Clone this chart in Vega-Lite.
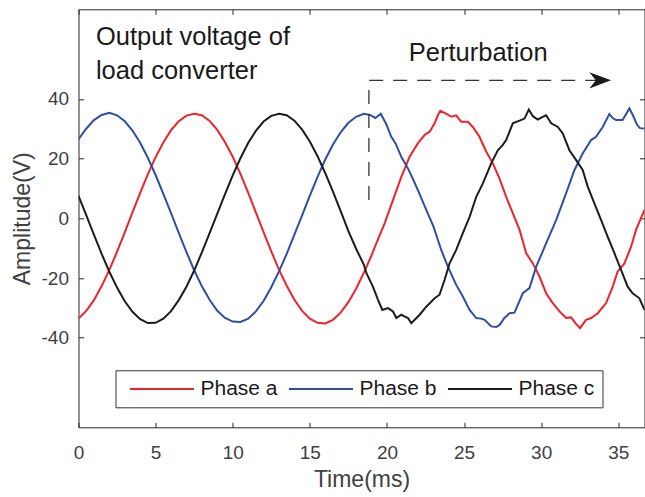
{
  "$schema": "https://vega.github.io/schema/vega-lite/v6.json",
  "width": 566,
  "height": 418,
  "autosize": {"type": "none"},
  "padding": {"left": 78.5, "top": 9.3, "right": 0, "bottom": 70},
  "background": "white",
  "config": {
    "view": {"stroke": "#262626", "strokeWidth": 1},
    "font": "Liberation Sans",
    "axis": {
      "grid": false,
      "domain": false,
      "tickColor": "#262626",
      "tickSize": -5,
      "labelFlush": false,
      "labelColor": "#404040",
      "titleColor": "#404040",
      "labelFont": "Liberation Sans",
      "titleFont": "Liberation Sans",
      "labelFontSize": 19,
      "titleFontSize": 23,
      "titleFontWeight": "normal",
      "labelExpr": "'' + datum.value"
    },
    "legend": {
      "orient": "none",
      "legendX": 37,
      "legendY": 361,
      "direction": "horizontal",
      "symbolType": "M-4,0 L4,0",
      "symbolSize": 256,
      "symbolStrokeWidth": 2,
      "symbolOffset": 28,
      "labelFont": "Liberation Sans",
      "labelFontSize": 21,
      "labelColor": "#1a1a1a",
      "labelOffset": 28,
      "columnPadding": 4,
      "padding": 8,
      "strokeColor": "#333333",
      "fillColor": "white"
    }
  },
  "datasets": {
    "wave": [
      {"t":0,"v":-33.6,"p":"Phase a"},{"t":0.5,"v":-31.0,"p":"Phase a"},{"t":1,"v":-27.4,"p":"Phase a"},{"t":1.5,"v":-22.7,"p":"Phase a"},{"t":2,"v":-17.3,"p":"Phase a"},{"t":2.5,"v":-11.2,"p":"Phase a"},{"t":3,"v":-4.7,"p":"Phase a"},{"t":3.5,"v":2.0,"p":"Phase a"},{"t":4,"v":8.5,"p":"Phase a"},{"t":4.5,"v":14.8,"p":"Phase a"},{"t":5,"v":20.5,"p":"Phase a"},{"t":5.5,"v":25.4,"p":"Phase a"},{"t":6,"v":29.5,"p":"Phase a"},{"t":6.5,"v":32.5,"p":"Phase a"},{"t":7,"v":34.4,"p":"Phase a"},{"t":7.5,"v":35.0,"p":"Phase a"},{"t":8,"v":34.5,"p":"Phase a"},{"t":8.5,"v":32.6,"p":"Phase a"},{"t":9,"v":29.6,"p":"Phase a"},{"t":9.5,"v":25.5,"p":"Phase a"},{"t":10,"v":20.6,"p":"Phase a"},{"t":10.5,"v":14.9,"p":"Phase a"},{"t":11,"v":8.6,"p":"Phase a"},{"t":11.5,"v":2.0,"p":"Phase a"},{"t":12,"v":-4.6,"p":"Phase a"},{"t":12.5,"v":-11.1,"p":"Phase a"},{"t":13,"v":-17.2,"p":"Phase a"},{"t":13.5,"v":-22.6,"p":"Phase a"},{"t":14,"v":-27.3,"p":"Phase a"},{"t":14.5,"v":-31.0,"p":"Phase a"},{"t":15,"v":-33.6,"p":"Phase a"},{"t":15.5,"v":-35.0,"p":"Phase a"},{"t":16,"v":-35.2,"p":"Phase a"},{"t":16.5,"v":-34.0,"p":"Phase a"},{"t":17,"v":-31.6,"p":"Phase a"},{"t":17.5,"v":-28.1,"p":"Phase a"},{"t":18,"v":-23.6,"p":"Phase a"},{"t":18.5,"v":-18.3,"p":"Phase a"},{"t":19.0,"v":-12.4,"p":"Phase a"},{"t":19.31,"v":-8.4,"p":"Phase a"},{"t":19.85,"v":-1.7,"p":"Phase a"},{"t":20.39,"v":6.1,"p":"Phase a"},{"t":20.93,"v":13.9,"p":"Phase a"},{"t":21.47,"v":20.6,"p":"Phase a"},{"t":22.0,"v":25.1,"p":"Phase a"},{"t":22.44,"v":27.9,"p":"Phase a"},{"t":22.77,"v":29.0,"p":"Phase a"},{"t":23.09,"v":31.8,"p":"Phase a"},{"t":23.3,"v":34.5,"p":"Phase a"},{"t":23.46,"v":36.0,"p":"Phase a"},{"t":23.7,"v":35.4,"p":"Phase a"},{"t":23.89,"v":34.9,"p":"Phase a"},{"t":24.17,"v":34.0,"p":"Phase a"},{"t":24.49,"v":34.5,"p":"Phase a"},{"t":24.82,"v":32.3,"p":"Phase a"},{"t":25.25,"v":32.3,"p":"Phase a"},{"t":25.57,"v":30.6,"p":"Phase a"},{"t":26.0,"v":27.3,"p":"Phase a"},{"t":26.44,"v":22.3,"p":"Phase a"},{"t":26.87,"v":18.4,"p":"Phase a"},{"t":27.3,"v":13.3,"p":"Phase a"},{"t":27.73,"v":7.2,"p":"Phase a"},{"t":28.16,"v":1.7,"p":"Phase a"},{"t":28.6,"v":-3.9,"p":"Phase a"},{"t":29.03,"v":-11.7,"p":"Phase a"},{"t":29.46,"v":-15.1,"p":"Phase a"},{"t":29.89,"v":-19.5,"p":"Phase a"},{"t":30.32,"v":-25.1,"p":"Phase a"},{"t":30.75,"v":-28.4,"p":"Phase a"},{"t":31.19,"v":-31.2,"p":"Phase a"},{"t":31.62,"v":-33.4,"p":"Phase a"},{"t":31.94,"v":-33.2,"p":"Phase a"},{"t":32.22,"v":-35.1,"p":"Phase a"},{"t":32.52,"v":-36.8,"p":"Phase a"},{"t":32.91,"v":-34.0,"p":"Phase a"},{"t":33.24,"v":-33.4,"p":"Phase a"},{"t":33.67,"v":-31.8,"p":"Phase a"},{"t":34.21,"v":-28.4,"p":"Phase a"},{"t":34.64,"v":-22.9,"p":"Phase a"},{"t":34.96,"v":-17.8,"p":"Phase a"},{"t":35.4,"v":-15.1,"p":"Phase a"},{"t":35.83,"v":-9.5,"p":"Phase a"},{"t":36.15,"v":-3.9,"p":"Phase a"},{"t":36.7,"v":2.8,"p":"Phase a"},
      {"t":0,"v":26.5,"p":"Phase b"},{"t":0.5,"v":30.0,"p":"Phase b"},{"t":1,"v":32.9,"p":"Phase b"},{"t":1.5,"v":34.6,"p":"Phase b"},{"t":2,"v":35.3,"p":"Phase b"},{"t":2.5,"v":34.5,"p":"Phase b"},{"t":3,"v":32.5,"p":"Phase b"},{"t":3.5,"v":29.4,"p":"Phase b"},{"t":4,"v":25.3,"p":"Phase b"},{"t":4.5,"v":20.2,"p":"Phase b"},{"t":5,"v":14.5,"p":"Phase b"},{"t":5.5,"v":8.2,"p":"Phase b"},{"t":6,"v":1.7,"p":"Phase b"},{"t":6.5,"v":-4.9,"p":"Phase b"},{"t":7,"v":-11.3,"p":"Phase b"},{"t":7.5,"v":-17.4,"p":"Phase b"},{"t":8,"v":-22.8,"p":"Phase b"},{"t":8.5,"v":-27.3,"p":"Phase b"},{"t":9,"v":-31.0,"p":"Phase b"},{"t":9.5,"v":-33.4,"p":"Phase b"},{"t":10,"v":-34.6,"p":"Phase b"},{"t":10.5,"v":-34.7,"p":"Phase b"},{"t":11,"v":-33.6,"p":"Phase b"},{"t":11.5,"v":-31.2,"p":"Phase b"},{"t":12,"v":-27.7,"p":"Phase b"},{"t":12.5,"v":-23.1,"p":"Phase b"},{"t":13,"v":-17.8,"p":"Phase b"},{"t":13.5,"v":-11.9,"p":"Phase b"},{"t":14,"v":-5.5,"p":"Phase b"},{"t":14.5,"v":1.0,"p":"Phase b"},{"t":15,"v":7.6,"p":"Phase b"},{"t":15.5,"v":13.9,"p":"Phase b"},{"t":16,"v":19.7,"p":"Phase b"},{"t":16.5,"v":24.7,"p":"Phase b"},{"t":17,"v":28.8,"p":"Phase b"},{"t":17.5,"v":32.0,"p":"Phase b"},{"t":18,"v":34.0,"p":"Phase b"},{"t":18.5,"v":35.0,"p":"Phase b"},{"t":18.9,"v":34.6,"p":"Phase b"},{"t":19.25,"v":33.6,"p":"Phase b"},{"t":19.6,"v":35.0,"p":"Phase b"},{"t":19.95,"v":31.6,"p":"Phase b"},{"t":20.28,"v":27.3,"p":"Phase b"},{"t":20.56,"v":25.1,"p":"Phase b"},{"t":20.93,"v":20.6,"p":"Phase b"},{"t":21.36,"v":16.7,"p":"Phase b"},{"t":21.7,"v":13.0,"p":"Phase b"},{"t":22.0,"v":9.5,"p":"Phase b"},{"t":22.55,"v":2.8,"p":"Phase b"},{"t":23.02,"v":-2.8,"p":"Phase b"},{"t":23.52,"v":-10.6,"p":"Phase b"},{"t":23.95,"v":-16.2,"p":"Phase b"},{"t":24.49,"v":-22.3,"p":"Phase b"},{"t":24.92,"v":-26.2,"p":"Phase b"},{"t":25.36,"v":-30.7,"p":"Phase b"},{"t":25.79,"v":-33.4,"p":"Phase b"},{"t":26.1,"v":-33.6,"p":"Phase b"},{"t":26.33,"v":-34.0,"p":"Phase b"},{"t":26.76,"v":-36.2,"p":"Phase b"},{"t":27.09,"v":-36.4,"p":"Phase b"},{"t":27.3,"v":-35.7,"p":"Phase b"},{"t":27.62,"v":-33.4,"p":"Phase b"},{"t":27.95,"v":-31.8,"p":"Phase b"},{"t":28.27,"v":-31.6,"p":"Phase b"},{"t":28.81,"v":-25.1,"p":"Phase b"},{"t":29.24,"v":-23.4,"p":"Phase b"},{"t":29.68,"v":-16.2,"p":"Phase b"},{"t":30.32,"v":-8.4,"p":"Phase b"},{"t":30.97,"v":-0.6,"p":"Phase b"},{"t":31.62,"v":8.4,"p":"Phase b"},{"t":32.16,"v":16.2,"p":"Phase b"},{"t":32.69,"v":21.7,"p":"Phase b"},{"t":33.24,"v":26.2,"p":"Phase b"},{"t":33.56,"v":27.3,"p":"Phase b"},{"t":33.99,"v":30.6,"p":"Phase b"},{"t":34.42,"v":34.9,"p":"Phase b"},{"t":34.65,"v":33.5,"p":"Phase b"},{"t":34.86,"v":32.9,"p":"Phase b"},{"t":35.28,"v":32.9,"p":"Phase b"},{"t":35.72,"v":36.8,"p":"Phase b"},{"t":35.95,"v":34.5,"p":"Phase b"},{"t":36.2,"v":31.5,"p":"Phase b"},{"t":36.4,"v":30.2,"p":"Phase b"},{"t":36.7,"v":30.1,"p":"Phase b"},
      {"t":0,"v":7.5,"p":"Phase c"},{"t":0.5,"v":1.1,"p":"Phase c"},{"t":1,"v":-5.5,"p":"Phase c"},{"t":1.5,"v":-11.9,"p":"Phase c"},{"t":2,"v":-17.9,"p":"Phase c"},{"t":2.5,"v":-23.2,"p":"Phase c"},{"t":3,"v":-27.8,"p":"Phase c"},{"t":3.5,"v":-31.3,"p":"Phase c"},{"t":4,"v":-33.8,"p":"Phase c"},{"t":4.5,"v":-35.1,"p":"Phase c"},{"t":5,"v":-35.0,"p":"Phase c"},{"t":5.5,"v":-33.6,"p":"Phase c"},{"t":6,"v":-31.1,"p":"Phase c"},{"t":6.5,"v":-27.4,"p":"Phase c"},{"t":7,"v":-22.9,"p":"Phase c"},{"t":7.5,"v":-17.5,"p":"Phase c"},{"t":8,"v":-11.4,"p":"Phase c"},{"t":8.5,"v":-5.0,"p":"Phase c"},{"t":9,"v":1.6,"p":"Phase c"},{"t":9.5,"v":8.1,"p":"Phase c"},{"t":10,"v":14.4,"p":"Phase c"},{"t":10.5,"v":20.1,"p":"Phase c"},{"t":11,"v":25.2,"p":"Phase c"},{"t":11.5,"v":29.3,"p":"Phase c"},{"t":12,"v":32.4,"p":"Phase c"},{"t":12.5,"v":34.3,"p":"Phase c"},{"t":13,"v":35.0,"p":"Phase c"},{"t":13.5,"v":34.5,"p":"Phase c"},{"t":14,"v":32.7,"p":"Phase c"},{"t":14.5,"v":29.7,"p":"Phase c"},{"t":15,"v":25.7,"p":"Phase c"},{"t":15.5,"v":20.8,"p":"Phase c"},{"t":16,"v":15.1,"p":"Phase c"},{"t":16.5,"v":8.9,"p":"Phase c"},{"t":17,"v":2.4,"p":"Phase c"},{"t":17.5,"v":-4.3,"p":"Phase c"},{"t":18,"v":-10.2,"p":"Phase c"},{"t":18.5,"v":-15.5,"p":"Phase c"},{"t":18.67,"v":-18.4,"p":"Phase c"},{"t":19.09,"v":-22.9,"p":"Phase c"},{"t":19.42,"v":-27.3,"p":"Phase c"},{"t":19.7,"v":-30.7,"p":"Phase c"},{"t":20.07,"v":-30.1,"p":"Phase c"},{"t":20.39,"v":-31.2,"p":"Phase c"},{"t":20.61,"v":-33.4,"p":"Phase c"},{"t":20.93,"v":-32.3,"p":"Phase c"},{"t":21.2,"v":-33.0,"p":"Phase c"},{"t":21.36,"v":-33.4,"p":"Phase c"},{"t":21.58,"v":-35.1,"p":"Phase c"},{"t":21.8,"v":-34.0,"p":"Phase c"},{"t":22.12,"v":-32.3,"p":"Phase c"},{"t":22.55,"v":-29.6,"p":"Phase c"},{"t":23.09,"v":-26.8,"p":"Phase c"},{"t":23.41,"v":-25.6,"p":"Phase c"},{"t":23.74,"v":-20.6,"p":"Phase c"},{"t":24.06,"v":-15.1,"p":"Phase c"},{"t":24.49,"v":-10.6,"p":"Phase c"},{"t":24.92,"v":-5.0,"p":"Phase c"},{"t":25.36,"v":0.5,"p":"Phase c"},{"t":25.79,"v":7.2,"p":"Phase c"},{"t":26.22,"v":11.7,"p":"Phase c"},{"t":26.76,"v":18.4,"p":"Phase c"},{"t":27.19,"v":22.8,"p":"Phase c"},{"t":27.5,"v":24.5,"p":"Phase c"},{"t":27.73,"v":26.2,"p":"Phase c"},{"t":28.16,"v":31.8,"p":"Phase c"},{"t":28.6,"v":32.7,"p":"Phase c"},{"t":28.92,"v":33.4,"p":"Phase c"},{"t":29.2,"v":36.4,"p":"Phase c"},{"t":29.46,"v":34.2,"p":"Phase c"},{"t":29.78,"v":33.1,"p":"Phase c"},{"t":30.1,"v":34.0,"p":"Phase c"},{"t":30.32,"v":34.5,"p":"Phase c"},{"t":30.65,"v":31.8,"p":"Phase c"},{"t":31.08,"v":30.6,"p":"Phase c"},{"t":31.4,"v":28.4,"p":"Phase c"},{"t":31.83,"v":22.8,"p":"Phase c"},{"t":32.27,"v":19.5,"p":"Phase c"},{"t":32.69,"v":16.2,"p":"Phase c"},{"t":33.02,"v":10.6,"p":"Phase c"},{"t":33.45,"v":5.0,"p":"Phase c"},{"t":33.89,"v":-0.6,"p":"Phase c"},{"t":34.31,"v":-6.1,"p":"Phase c"},{"t":34.75,"v":-11.7,"p":"Phase c"},{"t":35.18,"v":-17.3,"p":"Phase c"},{"t":35.61,"v":-22.9,"p":"Phase c"},{"t":35.93,"v":-25.1,"p":"Phase c"},{"t":36.37,"v":-26.8,"p":"Phase c"},{"t":36.7,"v":-30.7,"p":"Phase c"}
    ],
    "notes": [
      {"x":1.13,"y":58.0,"label":"Output voltage of"},
      {"x":1.13,"y":46.8,"label":"load converter"},
      {"x":21.42,"y":52.7,"label":"Perturbation"}
    ],
    "path": [
      {"x":18.83,"y":6.1,"o":1},
      {"x":18.83,"y":46.2,"o":2},
      {"x":33.6,"y":46.2,"o":3}
    ],
    "tip": [
      {"x":34.53,"y":46.2}
    ]
  },
  "layer": [
    {
      "data": {"name": "wave"},
      "mark": {"type": "line", "strokeWidth": 2, "clip": true},
      "encoding": {
        "x": {
          "field": "t", "type": "quantitative",
          "scale": {"domain": [0, 36.7], "nice": false, "zero": false},
          "axis": {"orient": "bottom", "values": [0,5,10,15,20,25,30,35], "title": "Time(ms)", "labelPadding": 21, "titlePadding": 6}
        },
        "y": {
          "field": "v", "type": "quantitative",
          "scale": {"domain": [-70, 70], "nice": false, "zero": false},
          "axis": {"orient": "left", "values": [-40,-20,0,20,40], "title": "Amplitude(V)", "labelPadding": 15, "titlePadding": 7}
        },
        "color": {
          "field": "p", "type": "nominal",
          "scale": {"domain": ["Phase a","Phase b","Phase c"], "range": ["#f0222b","#2f4fa3","#1c1c1c"]},
          "legend": {"title": null}
        },
        "order": {"field": "t", "type": "quantitative"}
      }
    },
    {
      "data": {"name": "path"},
      "mark": {"type": "line", "stroke": "#333333", "strokeWidth": 1.3, "strokeDash": [14, 10]},
      "encoding": {
        "x": {"field": "x", "type": "quantitative", "axis": {"orient": "top", "values": [0,5,10,15,20,25,30,35], "labels": false, "title": null}},
        "y": {"field": "y", "type": "quantitative", "axis": {"orient": "right", "values": [-40,-20,0,20,40], "labels": false, "title": null}},
        "order": {"field": "o", "type": "quantitative"}
      }
    },
    {
      "data": {"name": "tip"},
      "mark": {"type": "point", "shape": "M0,0 L-2,-0.75 L-1.4,0 L-2,0.75 Z", "size": 471, "filled": true, "fill": "#1a1a1a", "opacity": 1, "strokeWidth": 0},
      "encoding": {
        "x": {"field": "x", "type": "quantitative", "axis": null},
        "y": {"field": "y", "type": "quantitative", "axis": null}
      }
    },
    {
      "data": {"name": "notes"},
      "mark": {"type": "text", "align": "left", "baseline": "alphabetic", "font": "Liberation Sans", "fontSize": 25.5, "color": "#1a1a1a"},
      "encoding": {
        "x": {"field": "x", "type": "quantitative", "axis": null},
        "y": {"field": "y", "type": "quantitative", "axis": null},
        "text": {"field": "label"}
      }
    }
  ]
}
